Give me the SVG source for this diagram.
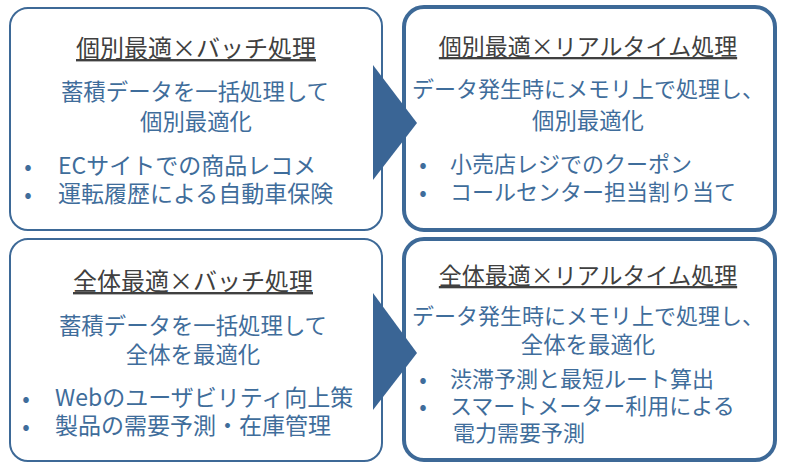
<svg xmlns="http://www.w3.org/2000/svg" width="787" height="469" viewBox="0 0 787 469">
<style>
.box{fill:#ffffff;stroke:#3d6997}
.thin{stroke-width:2}
.thick{stroke-width:4}
.arrow{fill:#3a6595}
text{font-family:"Noto Sans CJK JP","Noto Sans",sans-serif}
.title{font-size:24px;fill:#404040;text-anchor:middle;text-decoration:underline}
.title-r{font-size:23px}
.body{font-size:22.4px;fill:#3f6d9b;text-anchor:middle}
.body-r{font-size:22px}
.item{font-size:23px;fill:#3f6d9b}
.item-r{font-size:22px}
.dot{font-size:22px;fill:#3f6d9b;text-anchor:middle}
</style>
<rect width="787" height="469" fill="#ffffff"/>
<g id="node-tl">
<rect class="box thin" x="10" y="8" width="372" height="222" rx="18"/>
<text class="title" x="196" y="57">個別最適×バッチ処理</text>
<text class="body" x="195" y="100">蓄積データを一括処理して</text>
<text class="body" x="196" y="130">個別最適化</text>
<text class="dot" x="28" y="174">•</text>
<text class="item" x="58" y="174">ECサイトでの商品レコメ</text>
<text class="dot" x="28" y="202">•</text>
<text class="item" x="58" y="202">運転履歴による自動車保険</text>
</g>
<g id="node-tr">
<rect class="box thick" x="404" y="7" width="371" height="223" rx="20"/>
<text class="title title-r" x="588" y="55">個別最適×リアルタイム処理</text>
<text class="body body-r" x="588" y="97">データ発生時にメモリ上で処理し、</text>
<text class="body" x="588" y="129">個別最適化</text>
<text class="dot" x="423" y="172">•</text>
<text class="item item-r" x="450" y="172">小売店レジでのクーポン</text>
<text class="dot" x="423" y="200">•</text>
<text class="item item-r" x="450" y="200">コールセンター担当割り当て</text>
</g>
<g id="node-bl">
<rect class="box thin" x="10" y="239" width="372" height="222" rx="18"/>
<text class="title" x="193" y="290">全体最適×バッチ処理</text>
<text class="body" x="193" y="334">蓄積データを一括処理して</text>
<text class="body" x="193" y="363">全体を最適化</text>
<text class="dot" x="26" y="406">•</text>
<text class="item" x="55" y="406">Webのユーザビリティ向上策</text>
<text class="dot" x="26" y="434">•</text>
<text class="item" x="55" y="434">製品の需要予測・在庫管理</text>
</g>
<g id="node-br">
<rect class="box thick" x="404" y="239" width="371" height="221" rx="20"/>
<text class="title title-r" x="588" y="284">全体最適×リアルタイム処理</text>
<text class="body body-r" x="588" y="324">データ発生時にメモリ上で処理し、</text>
<text class="body" x="588" y="353">全体を最適化</text>
<text class="dot" x="423" y="387">•</text>
<text class="item item-r" x="450" y="387">渋滞予測と最短ルート算出</text>
<text class="dot" x="423" y="414">•</text>
<text class="item item-r" x="450" y="414">スマートメーター利用による</text>
<text class="item item-r" x="453" y="441">電力需要予測</text>
</g>
<g id="connectors">
<polygon class="arrow" points="373,65 417,123 373,180"/>
<polygon class="arrow" points="373,293 417,353 373,410"/>
</g>
</svg>
